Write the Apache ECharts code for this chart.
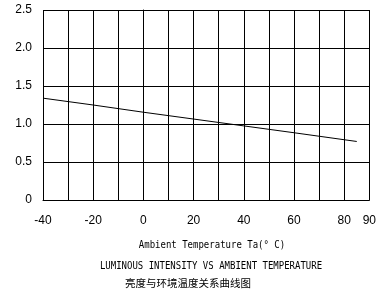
<!DOCTYPE html>
<html><head><meta charset="utf-8">
<script src="https://cdn.jsdelivr.net/npm/echarts@6/dist/echarts.min.js"></script>
<style>html,body{margin:0;padding:0;background:#fff}#c{width:379px;height:300px}</style>
</head><body><div id="c"></div>
<script>
var temps = [-40, -20, 0, 20, 40, 60, 85];
var intensity = [1.34, 1.25, 1.155, 1.065, 0.975, 0.885, 0.77];
var xLabelValues = [-40, -20, 0, 20, 40, 60, 80, 90];
var yTicks = [0, 0.5, 1.0, 1.5, 2.0, 2.5];
var xAxisTitle = 'Ambient Temperature Ta(° C)';
var titleEn = 'LUMINOUS INTENSITY VS AMBIENT TEMPERATURE';
var titleZh = '亮度与环境温度关系曲线图';

var chart = echarts.init(document.getElementById('c'), null, {renderer: 'canvas'});
var axisFont = '"Liberation Sans", sans-serif';
var textFont = '"DejaVu Sans Mono", monospace';
chart.setOption({
  animation: false,
  grid: {left: 43, right: 6, top: 10, bottom: 100},
  xAxis: {
    type: 'value', min: -40, max: 90, interval: 10,
    axisLine: {show: true, lineStyle: {color: '#000', width: 1}},
    axisTick: {show: false},
    splitLine: {show: true, lineStyle: {color: '#000', width: 1}},
    axisLabel: {
      margin: 15, color: '#000', fontFamily: axisFont, fontSize: 12,
      showMaxLabel: true, showMinLabel: true,
      formatter: function (v) { return xLabelValues.indexOf(v) >= 0 ? String(v) : ''; }
    }
  },
  yAxis: {
    type: 'value', min: 0, max: 2.5, interval: 0.5,
    axisLine: {show: true, lineStyle: {color: '#000', width: 1}},
    axisTick: {show: false},
    splitLine: {show: true, lineStyle: {color: '#000', width: 1}},
    axisLabel: {
      margin: 11, color: '#000', fontFamily: axisFont, fontSize: 12,
      formatter: function (v) { return v === 0 ? '0' : v.toFixed(1); }
    }
  },
  series: [{
    type: 'line',
    data: temps.map(function (t, i) { return [t, intensity[i]]; }),
    symbol: 'none',
    lineStyle: {color: '#000', width: 1}
  }],
  graphic: [
    {type: 'text', x: 212, y: 245, scaleY: 1.25, style: {text: xAxisTitle, font: '9px ' + textFont, fill: '#000', textAlign: 'center', textVerticalAlign: 'middle'}},
    {type: 'text', x: 211, y: 266, scaleY: 1.25, style: {text: titleEn, font: '9px ' + textFont, fill: '#000', textAlign: 'center', textVerticalAlign: 'middle'}},
    {type: 'text', x: 188, y: 283, style: {text: titleZh, font: '10.5px "Noto Sans CJK SC"', fill: '#000', textAlign: 'center', textVerticalAlign: 'middle'}}
  ]
});
</script></body></html>
